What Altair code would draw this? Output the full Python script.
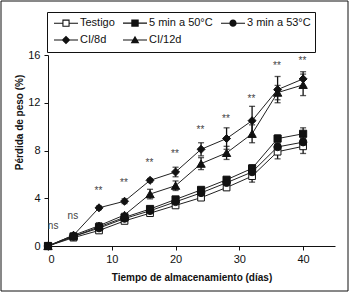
import altair as alt
import pandas as pd

# ---- data ----
days = [0, 4, 8, 12, 16, 20, 24, 28, 32, 36, 40]
series_names = ["Testigo", "5 min a 50°C", "3 min a 53°C", "CI/8d", "CI/12d"]
testigo = [0, 0.7, 1.3, 2.1, 2.75, 3.4, 4.05, 4.9, 5.85, 7.9, 8.35]
min50 = [0, 0.8, 1.6, 2.4, 3.1, 3.9, 4.7, 5.55, 6.5, 9.0, 9.4]
min53 = [0, 0.8, 1.5, 2.3, 2.95, 3.7, 4.45, 5.3, 6.2, 8.3, 8.7]
ci8 = [0, 0.9, 3.2, 3.75, 5.5, 6.2, 8.1, 9.0, 10.5, 13.1, 14.0]
ci12 = [0, 0.9, 1.7, 2.6, 4.35, 5.05, 6.9, 7.8, 9.4, 12.85, 13.5]
err_testigo = [0, 0.05, 0.2, 0.1, 0.1, 0.15, 0.2, 0.2, 0.5, 0.6, 0.6]
err_min50 = [0, 0.1, 0.15, 0.15, 0.2, 0.2, 0.2, 0.2, 0.3, 0.3, 0.5]
err_min53 = [0, 0.05, 0.1, 0.1, 0.15, 0.15, 0.15, 0.15, 0.2, 0.3, 0.3]
err_ci8 = [0, 0.1, 0.15, 0.2, 0.15, 0.4, 0.55, 0.9, 1.2, 1.1, 0.6]
err_ci12 = [0, 0.1, 0.25, 0.15, 0.4, 0.4, 0.5, 0.55, 0.75, 0.6, 0.9]

annot_text = ["ns", "ns", "**", "**", "**", "**", "**", "**", "**", "**", "**"]
annot_x = [0.8, 3.9, 7.9, 11.9, 15.9, 19.9, 23.9, 27.9, 31.9, 35.9, 39.9]
annot_y = [1.7, 2.5, 4.6, 5.3, 6.95, 7.7, 9.7, 10.6, 12.3, 15.1, 15.5]

values = [testigo, min50, min53, ci8, ci12]
errors = [err_testigo, err_min50, err_min53, err_ci8, err_ci12]

rows = []
for name, vals, errs in zip(series_names, values, errors):
    for d, v, e in zip(days, vals, errs):
        rows.append({"serie": name, "dia": d, "perdida": v,
                     "lo": v - e, "hi": v + e, "err": e})
df = pd.DataFrame(rows)
df_err = df[df["err"] > 0]
df_annot = pd.DataFrame({"txt": annot_text, "dia": annot_x, "y": annot_y})

FONT = "Liberation Sans, Arial, sans-serif"
YTITLE = "Pérdida de peso (%)"
XTITLE = "Tiempo de almacenamiento (días)"

x_enc = alt.X("dia:Q", scale=alt.Scale(domain=[0, 45], nice=False),
              axis=alt.Axis(values=list(range(0, 46, 5)), title=XTITLE,
                            titleY=31, titleBaseline="middle"))
y_enc = alt.Y("perdida:Q", scale=alt.Scale(domain=[0, 16], nice=False),
              axis=alt.Axis(values=list(range(0, 17, 2)), title=YTITLE,
                            titleY=67, titleAngle=-90, titlePadding=3,
                            titleAlign="center"))

base = alt.Chart(df)

lines = base.mark_line(color="#222222", strokeWidth=1).encode(
    x=x_enc, y=y_enc, detail="serie:N")

errbars = alt.Chart(df_err).mark_errorbar(
    ticks=True, size=6, thickness=1.3, color="#111111").encode(
    x=alt.X("dia:Q", title=XTITLE), y=alt.Y("lo:Q", title=YTITLE), y2="hi:Q")

point_shapes = ["square", "square", "circle", "diamond", "triangle-up"]
point_sizes = [45, 70, 55, 55, 55]
fills = ["white", "#111111", "#111111", "#111111", "#111111"]

points = base.mark_point(filled=True, stroke="#111111", strokeWidth=1,
                         opacity=1).encode(
    x=alt.X("dia:Q", title=XTITLE), y=alt.Y("perdida:Q", title=YTITLE),
    shape=alt.Shape("serie:N", scale=alt.Scale(domain=series_names, range=point_shapes),
                    legend=None),
    fill=alt.Fill("serie:N", scale=alt.Scale(domain=series_names, range=fills),
                  legend=None),
    size=alt.Size("serie:N", scale=alt.Scale(domain=series_names, range=point_sizes),
                  legend=None))

# legend-only layer: filled outlines drawing a line through each marker
LINE_L = "M-2,-0.09H-0.6V0.09H-2Z"
LINE_R = "M0.6,-0.09H2V0.09H0.6Z"
LINE = "M-2,-0.09H2V0.09H-2Z"
legend_paths = [
    LINE_L + LINE_R + "M-0.6,-0.6H0.6V0.6H-0.6Z" + "M-0.42,-0.42V0.42H0.42V-0.42Z",
    LINE + "M-0.62,-0.62H0.62V0.62H-0.62Z",
    LINE + "M-0.6,0A0.6,0.6,0,1,1,0.6,0A0.6,0.6,0,1,1,-0.6,0Z",
    LINE + "M0,-0.72L0.72,0L0,0.72L-0.72,0Z",
    LINE + "M0,-0.72L0.72,0.56L-0.72,0.56Z",
]
leg = alt.Legend(title=None, orient="none", legendX=-1, legendY=-43, columns=3,
                 direction="horizontal",
                 strokeColor="#111111", fillColor="white", padding=4,
                 columnPadding=5, rowPadding=2, symbolOffset=8, labelOffset=7,
                 labelFont=FONT, labelFontSize=11, labelColor="#111111",
                 symbolSize=144, symbolOpacity=1)
legend_layer = base.transform_filter("false").mark_point(
    filled=True, color="#111111", opacity=1).encode(
    x=alt.X("dia:Q", title=XTITLE), y=alt.Y("perdida:Q", title=YTITLE),
    shape=alt.Shape("serie:N", scale=alt.Scale(domain=series_names, range=legend_paths),
                    legend=leg))

annots = alt.Chart(df_annot).mark_text(font=FONT, fontSize=10, color="#444444").encode(
    x=alt.X("dia:Q", title=XTITLE), y=alt.Y("y:Q", title=YTITLE), text="txt:N")

frame = alt.Chart(pd.DataFrame({"a": [0]})).mark_rect(
    fillOpacity=0, stroke="#111111", strokeWidth=1).encode(
    x=alt.value(-47), x2=alt.value(300), y=alt.value(-54), y2=alt.value(236))

chart = alt.layer(frame, lines, errbars, points, legend_layer, annots).resolve_scale(
    shape="independent"
).properties(
    width=287, height=191, autosize="none",
    padding={"left": 48, "top": 55, "right": 16, "bottom": 47},
).configure_view(stroke=None).configure_axis(
    grid=False, domainColor="#111111", tickColor="#111111", tickSize=4,
    labelFont=FONT, labelFontSize=11, labelColor="#111111", labelPadding=3,
    titleFont=FONT, titleFontSize=10, titleFontWeight="bold", titleColor="#111111",
).configure_axisY(labelPadding=4)

chart.save("out.html", embed_options={"renderer": "svg", "actions": False})
